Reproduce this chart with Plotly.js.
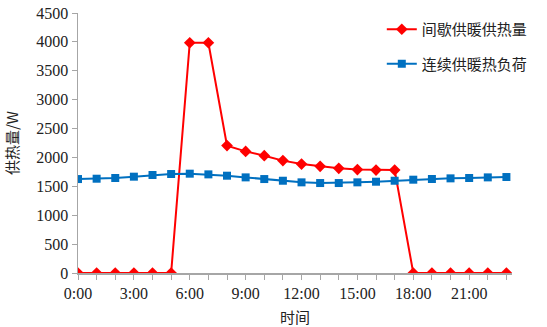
<!DOCTYPE html>
<html>
<head>
<meta charset="utf-8">
<script src="https://cdn.plot.ly/plotly-3.0.1.min.js"></script>
<style>html,body{margin:0;padding:0;background:#fff;}#chart{width:547px;height:327px;}</style>
</head>
<body>
<div id="chart"></div>
<script>
var hours = [0,1,2,3,4,5,6,7,8,9,10,11,12,13,14,15,16,17,18,19,20,21,22,23];
var tickLabels = ["0:00","","","3:00","","","6:00","","","9:00","","","12:00","","","15:00","","","18:00","","","21:00","",""];
var intermittentName = "间歇供暖供热量";
var intermittent = [0,0,0,0,0,0,3985,3985,2205,2105,2030,1945,1886,1846,1811,1790,1782,1782,0,0,0,0,0,0];
var continuousName = "连续供暖热负荷";
var continuous = [1626,1632,1644,1667,1696,1713,1719,1707,1684,1655,1626,1597,1569,1557,1557,1569,1580,1597,1615,1627,1638,1644,1655,1661];

var serif = "Liberation Serif, Times New Roman, serif";
var cjk = "Noto Sans CJK SC, sans-serif";

var traces = [
  {x: hours, y: intermittent, name: intermittentName, type: "scatter", mode: "lines+markers",
   legendgroup: "a",
   line: {color: "#ff0000", width: 2}, marker: {symbol: "diamond", size: 9, color: "#ff0000"}},
  {x: hours, y: continuous, name: continuousName, type: "scatter", mode: "lines+markers",
   legendgroup: "b",
   line: {color: "#0070c0", width: 2}, marker: {symbol: "square", size: 8, color: "#0070c0"}}
];

var layout = {
  width: 547, height: 327,
  margin: {l: 78, r: 35, t: 13, b: 54},
  paper_bgcolor: "#fff", plot_bgcolor: "#fff",
  showlegend: true,
  legend: {x: 0.7, y: 1.0, xanchor: "left", yanchor: "top",
           font: {family: cjk, size: 15, color: "#222"},
           traceorder: "grouped", tracegroupgap: 12, bgcolor: "rgba(0,0,0,0)"},
  xaxis: {
    range: [0, 23.3], tickmode: "array", tickvals: hours, ticktext: tickLabels,
    showgrid: false, zeroline: false, showline: true, linecolor: "#a6a6a6", linewidth: 1.5,
    ticks: "outside", ticklen: 5, tickcolor: "#a6a6a6",
    tickfont: {family: serif, size: 16, color: "#222"},
    title: {text: "时间", font: {family: cjk, size: 15, color: "#222"}, standoff: 12}
  },
  yaxis: {
    range: [0, 4500], tickvals: [0,500,1000,1500,2000,2500,3000,3500,4000,4500],
    showgrid: false, zeroline: false, showline: true, linecolor: "#a6a6a6", linewidth: 1.5,
    ticks: "outside", ticklen: 5, tickcolor: "#a6a6a6",
    tickfont: {family: serif, size: 16, color: "#222"},
    title: {text: "供热量/W", font: {family: cjk, size: 15, color: "#222"}, standoff: 14}
  }
};

Plotly.newPlot("chart", traces, layout, {displayModeBar: false, staticPlot: true});
</script>
</body>
</html>
